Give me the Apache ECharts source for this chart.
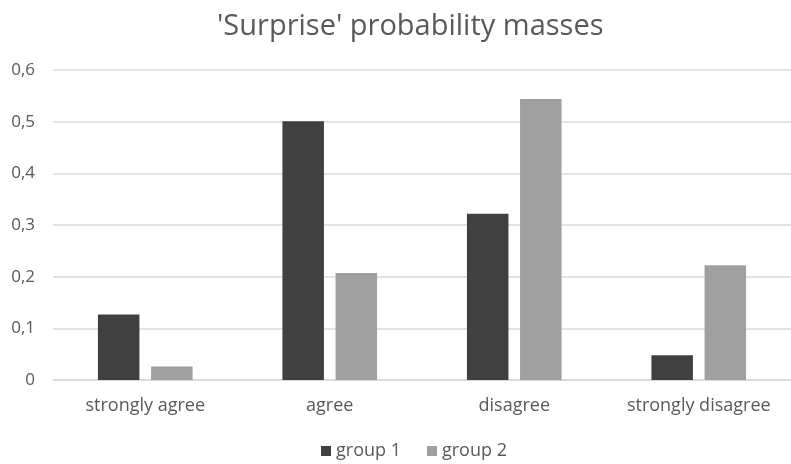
<!DOCTYPE html>
<html>
<head>
<meta charset="utf-8">
<script src="https://cdn.jsdelivr.net/npm/echarts@6/dist/echarts.min.js"></script>
<style>
  html, body { margin: 0; padding: 0; background: #fff; }
  #main { width: 791px; height: 464px; }
</style>
</head>
<body>
<div id="main"></div>
<script>
var categories = ['strongly agree', 'agree', 'disagree', 'strongly disagree'];
var group1 = [0.127, 0.501, 0.322, 0.048];
var group2 = [0.026, 0.207, 0.544, 0.222];

var textColor = '#595959';
var fontName = '"Open Sans", "Noto Sans", sans-serif';

option = {
    animation: false,
    title: {
        text: "'Surprise' probability masses",
        left: 212,
        top: 7,
        textStyle: {
            color: textColor,
            fontFamily: fontName,
            fontWeight: 'normal',
            fontSize: 29
        }
    },
    legend: {
        top: 437,
        left: 316,
        itemWidth: 10,
        itemHeight: 10,
        itemGap: 26,
        icon: 'rect',
        data: ['group 1', 'group 2'],
        textStyle: {
            color: textColor,
            fontFamily: fontName,
            fontSize: 18
        }
    },
    grid: {
        left: 53,
        top: 70,
        width: 747,
        height: 310
    },
    xAxis: {
        type: 'category',
        data: categories,
        axisLine: { show: true, lineStyle: { color: '#d9d9d9', width: 1.5 } },
        axisTick: { show: false },
        axisLabel: {
            interval: 0,
            color: textColor,
            fontFamily: fontName,
            fontSize: 18,
            margin: 17
        }
    },
    yAxis: {
        type: 'value',
        min: 0,
        max: 0.6,
        interval: 0.1,
        axisLine: { show: false },
        axisTick: { show: false },
        splitLine: { lineStyle: { color: '#d9d9d9', width: 1.5 } },
        axisLabel: {
            color: textColor,
            fontFamily: fontName,
            fontSize: 17,
            margin: 18,
            formatter: function (v) {
                return v === 0 ? '0' : v.toFixed(1).replace('.', ',');
            }
        }
    },
    series: [
        {
            name: 'group 1',
            type: 'bar',
            data: group1,
            barWidth: '22.5%',
            barGap: '28%',
            itemStyle: { color: '#404040' }
        },
        {
            name: 'group 2',
            type: 'bar',
            data: group2,
            barWidth: '22.5%',
            itemStyle: { color: '#a0a0a0' }
        }
    ]
};

var myChart = echarts.init(document.getElementById('main'));
myChart.setOption(option);
</script>
</body>
</html>
